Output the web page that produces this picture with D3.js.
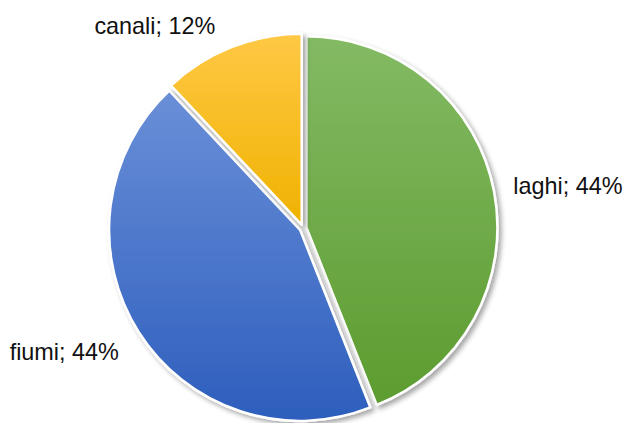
<!DOCTYPE html>
<html>
<head>
<meta charset="utf-8">
<script src="https://cdn.jsdelivr.net/npm/d3@7"></script>
<style>
  html, body { margin: 0; padding: 0; background: #fff; }
  svg { display: block; }
</style>
</head>
<body>
<svg id="chart" width="625" height="423"></svg>
<script>
// Categories and shares
const categories = ["laghi", "fiumi", "canali"];
const values = [44, 44, 12];
const labels = ["laghi; 44%", "fiumi; 44%", "canali; 12%"];

// Gradient stops per slice (top, bottom)
const gradTop = ["#83ba64", "#6a8fd8", "#ffc845"];
const gradBottom = ["#5c9c2f", "#2d5ebd", "#efb200"];

const width = 625, height = 423;
const cx = 303, cy = 228, radius = 191, explode = 3.5;

const svg = d3.select("#chart");
const defs = svg.append("defs");

categories.forEach((c, i) => {
  const g = defs.append("linearGradient")
    .attr("id", "grad-" + c)
    .attr("x1", 0).attr("y1", 0).attr("x2", 0).attr("y2", 1);
  g.append("stop").attr("offset", "0%").attr("stop-color", gradTop[i]);
  g.append("stop").attr("offset", "100%").attr("stop-color", gradBottom[i]);
});

const shadow = defs.append("filter")
  .attr("id", "shadow")
  .attr("x", "-20%").attr("y", "-20%").attr("width", "140%").attr("height", "140%");
shadow.append("feDropShadow")
  .attr("dx", 3).attr("dy", 3).attr("stdDeviation", 2.5)
  .attr("flood-color", "#000").attr("flood-opacity", 0.35);

const pie = d3.pie().sort(null).value(d => d.value);
const arcs = pie(categories.map((c, i) => ({ name: c, value: values[i], label: labels[i] })));

const arc = d3.arc().innerRadius(0).outerRadius(radius);

const root = svg.append("g").attr("transform", `translate(${cx},${cy})`);

const slices = root.selectAll("g.slice")
  .data(arcs)
  .join("g")
  .attr("class", "slice")
  .attr("transform", d => {
    const a = (d.startAngle + d.endAngle) / 2;
    return `translate(${explode * Math.sin(a)},${-explode * Math.cos(a)})`;
  });

slices.append("path")
  .attr("d", arc)
  .attr("fill", d => `url(#grad-${d.data.name})`)
  .attr("stroke", "#fff")
  .attr("stroke-width", 2.5)
  .attr("stroke-linejoin", "round")
  .attr("filter", "url(#shadow)");

// Outside labels, placed around each slice's mid-angle
const labelRadius = radius + 20;
const labelNudge = {
  laghi: { dx: 3, dy: 6, anchor: "start" },
  fiumi: { dx: -6, dy: 19, anchor: "end" },
  canali: { dx: -10, dy: 2, anchor: "end" }
};

root.selectAll("text.label")
  .data(arcs)
  .join("text")
  .attr("class", "label")
  .attr("x", d => {
    const a = (d.startAngle + d.endAngle) / 2;
    return labelRadius * Math.sin(a) + labelNudge[d.data.name].dx;
  })
  .attr("y", d => {
    const a = (d.startAngle + d.endAngle) / 2;
    return -labelRadius * Math.cos(a) + labelNudge[d.data.name].dy;
  })
  .attr("text-anchor", d => labelNudge[d.data.name].anchor)
  .attr("font-family", "Liberation Sans, Arial, sans-serif")
  .attr("font-size", 23.4)
  .attr("fill", "#111")
  .text(d => d.data.label);
</script>
</body>
</html>
